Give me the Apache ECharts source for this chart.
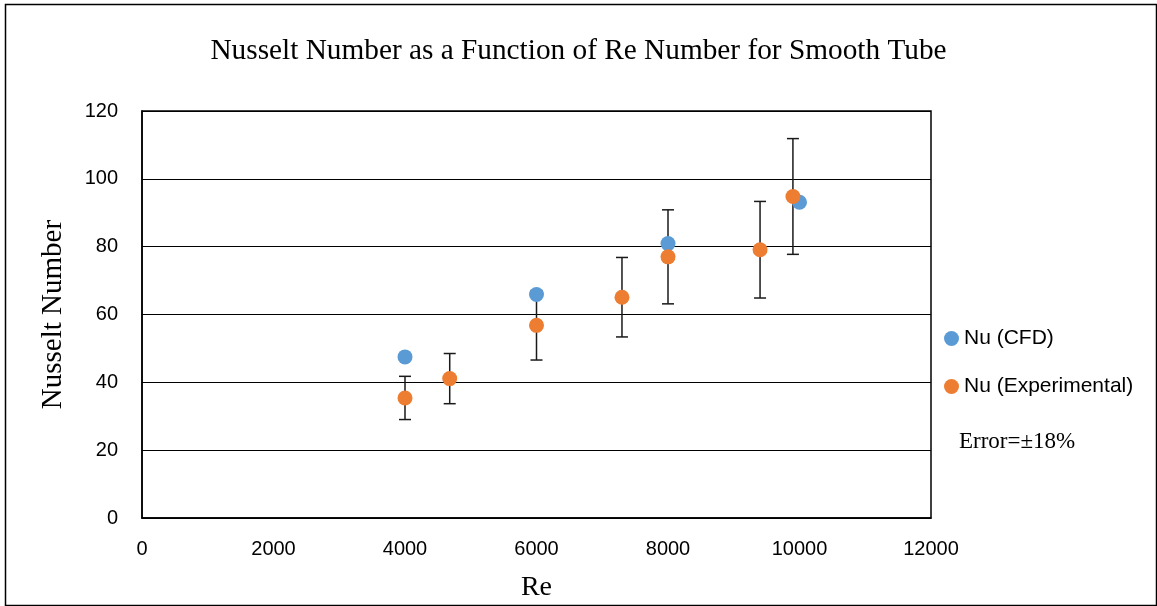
<!DOCTYPE html>
<html>
<head>
<meta charset="utf-8">
<script src="https://cdn.jsdelivr.net/npm/echarts@6/dist/echarts.min.js"></script>
<style>html,body{margin:0;padding:0;background:#fff}#c{width:1157px;height:606px}</style>
</head>
<body>
<div id="c"></div>
<script>
var titleText = 'Nusselt Number as a Function of Re Number for Smooth Tube';
var cfdRe = [4000, 6000, 8000, 10000];
var cfdNu = [47.5, 65.9, 80.9, 93.1];
var expRe = [4000, 4680, 6000, 7300, 8000, 9400, 9900];
var expNu = [35.4, 41.1, 56.8, 65.1, 77.0, 79.1, 94.8];
var errorPct = 0.18;
var seriesNames = ['Nu (CFD)', 'Nu (Experimental)'];
var xTicks = [0, 2000, 4000, 6000, 8000, 10000, 12000];
var yTicks = [0, 20, 40, 60, 80, 100, 120];

var cfdData = cfdRe.map(function (x, i) { return [x, cfdNu[i]]; });
var expData = expRe.map(function (x, i) { return [x, expNu[i]]; });
var errData = expRe.map(function (x, i) { return [x, expNu[i] * (1 - errorPct), expNu[i] * (1 + errorPct)]; });

var chart = echarts.init(document.getElementById('c'));
var sans = '"Liberation Sans", "Open Sans", sans-serif';
var serif = '"Liberation Serif", "DejaVu Serif", serif';
chart.setOption({
  animation: false,
  backgroundColor: '#fff',
  title: {
    text: titleText, left: 'center', top: 32,
    textStyle: { fontFamily: serif, fontWeight: 'normal', fontSize: 29.3, color: '#000' }
  },
  legend: {
    orient: 'vertical', left: 939, top: 323,
    itemWidth: 15, itemHeight: 15, itemGap: 27, icon: 'circle',
    textStyle: { fontFamily: sans, fontSize: 21, color: '#000' },
    data: seriesNames
  },
  grid: { left: 142, top: 111, right: 226, bottom: 88, show: true, borderColor: '#000', borderWidth: 1.5, outerBoundsMode: 'none', containLabel: false },
  xAxis: {
    type: 'value', min: 0, max: 12000, interval: 2000,
    name: 'Re', nameLocation: 'middle', nameGap: 56,
    nameTextStyle: { fontFamily: serif, fontSize: 28, color: '#000' },
    axisLine: { show: true, lineStyle: { color: '#000', width: 1.5 } },
    axisTick: { show: false },
    splitLine: { show: false },
    axisLabel: { fontFamily: sans, fontSize: 20, color: '#000', margin: 21, formatter: function (v) { return String(v); } }
  },
  yAxis: {
    type: 'value', min: 0, max: 120, interval: 20,
    name: 'Nusselt Number', nameLocation: 'middle', nameGap: 74,
    nameTextStyle: { fontFamily: serif, fontSize: 29, color: '#000' },
    axisLine: { show: true, lineStyle: { color: '#000', width: 1.5 } },
    axisTick: { show: false },
    splitLine: { show: true, lineStyle: { color: '#000', width: 1.2 } },
    axisLabel: { fontFamily: sans, fontSize: 20, color: '#000', margin: 24 }
  },
  graphic: [
    { type: 'rect', left: 3, top: 2, shape: { width: 1151, height: 601 }, style: { fill: 'none', stroke: '#000', lineWidth: 1.5 }, z: 100 },
    { type: 'text', left: 959, top: 430, style: { text: 'Error=±18%', font: '23px "Liberation Serif", serif', fill: '#000' } }
  ],
  series: [
    {
      type: 'custom', name: 'err', z: 1,
      data: errData,
      encode: { x: 0, y: [1, 2] },
      renderItem: function (params, api) {
        var lo = api.coord([api.value(0), api.value(1)]);
        var hi = api.coord([api.value(0), api.value(2)]);
        var w = 6;
        var st = { stroke: '#1a1a1a', lineWidth: 1.5 };
        return { type: 'group', children: [
          { type: 'line', shape: { x1: lo[0], y1: lo[1], x2: hi[0], y2: hi[1] }, style: st },
          { type: 'line', shape: { x1: lo[0] - w, y1: lo[1], x2: lo[0] + w, y2: lo[1] }, style: st },
          { type: 'line', shape: { x1: hi[0] - w, y1: hi[1], x2: hi[0] + w, y2: hi[1] }, style: st }
        ] };
      }
    },
    { type: 'scatter', name: seriesNames[0], data: cfdData, symbol: 'circle', symbolSize: 15, itemStyle: { color: '#5B9BD5', opacity: 1 }, z: 2 },
    { type: 'scatter', name: seriesNames[1], data: expData, symbol: 'circle', symbolSize: 15, itemStyle: { color: '#ED7D31', opacity: 1 }, z: 3 }
  ]
});
</script>
</body>
</html>
